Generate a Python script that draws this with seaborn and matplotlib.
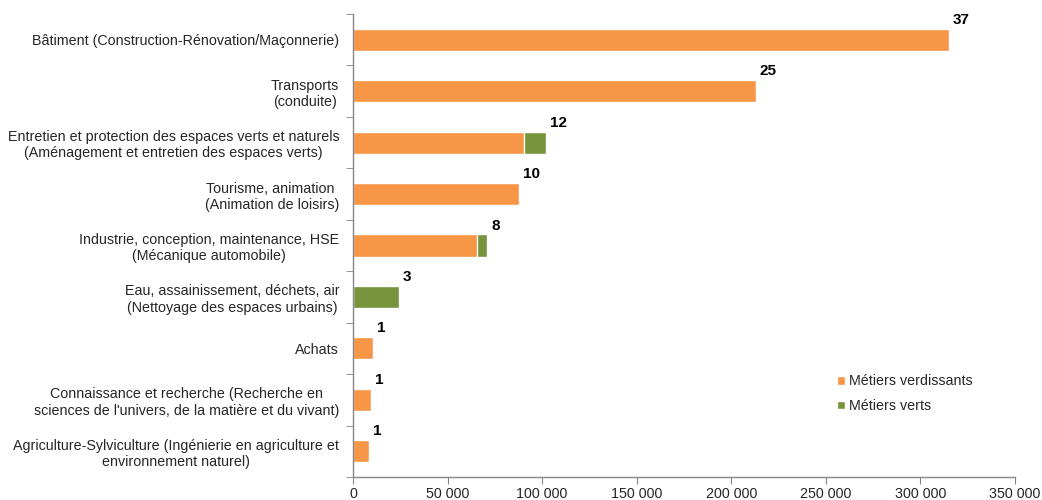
import pandas as pd
import matplotlib.pyplot as plt
import seaborn as sns
from matplotlib.ticker import FuncFormatter, FixedLocator

# --- Data ---
categories = [
    "Bâtiment (Construction-Rénovation/Maçonnerie)",
    "Transports\n(conduite)",
    "Entretien et protection des espaces verts et naturels\n(Aménagement et entretien des espaces verts)",
    "Tourisme, animation \n(Animation de loisirs)",
    "Industrie, conception, maintenance, HSE\n(Mécanique automobile)",
    "Eau, assainissement, déchets, air\n(Nettoyage des espaces urbains)",
    "Achats",
    "Connaissance et recherche (Recherche en\nsciences de l'univers, de la matière et du vivant)",
    "Agriculture-Sylviculture (Ingénierie en agriculture et\nenvironnement naturel)",
]
verdissants = [315000, 213000, 90400, 87800, 65600, 0, 10600, 9500, 8500]
verts = [0, 0, 11700, 0, 5300, 24300, 0, 0, 0]
nb_metiers = [37, 25, 12, 10, 8, 3, 1, 1, 1]

ORANGE = "#F79646"
GREEN = "#77933C"
AXIS_GRAY = "#868686"
TEXT = "#262626"

df = pd.DataFrame({
    "cat": categories,
    "verdissants": verdissants,
    "verts": verts,
    "n": nb_metiers,
})
df["total"] = df["verdissants"] + df["verts"]

# --- Style ---
sns.set_style("white")
plt.rcParams["font.family"] = ["Liberation Sans", "DejaVu Sans"]

fig = plt.figure(figsize=(10.42, 5.0), dpi=100)
ax = fig.add_axes([0.3388, 0.046, 0.6353, 0.926])

# stacked bars: total (green) underneath, orange on top
sns.barplot(data=df, x="total", y="cat", color=GREEN, width=0.43,
            saturation=1, ax=ax, label="Métiers verts")
sns.barplot(data=df, x="verdissants", y="cat", color=ORANGE, width=0.43,
            saturation=1, ax=ax, label="Métiers verdissants")

# value labels
for i, row in df.iterrows():
    ax.annotate(str(row["n"]), xy=(row["total"], i),
                xytext=(4, 13), textcoords="offset pixels",
                ha="left", va="bottom", fontsize=11, fontweight="bold",
                color="black")

# --- Axes ---
ax.set_xlim(0, 350000)
ax.set_ylim(8.5, -0.5)
ax.set_xlabel("")
ax.set_ylabel("")
ax.xaxis.set_major_locator(FixedLocator(range(0, 350001, 50000)))
ax.xaxis.set_major_formatter(FuncFormatter(lambda v, p: f"{int(v):,}".replace(",", " ")))

ax.set_yticks(range(len(categories)))
ax.set_yticklabels(categories, ha="right", multialignment="center")
ax.yaxis.set_minor_locator(FixedLocator([i + 0.5 for i in range(-1, len(categories))]))

ax.tick_params(axis="y", which="major", length=0, pad=10, labelsize=10.3, labelcolor=TEXT)
ax.tick_params(axis="y", which="minor", length=5, color=AXIS_GRAY, direction="out", left=True)
ax.tick_params(axis="x", which="major", length=5, color=AXIS_GRAY, direction="out",
               bottom=True, labelsize=10.3, labelcolor=TEXT, pad=2)

for side in ["top", "right"]:
    ax.spines[side].set_visible(False)
for side in ["left", "bottom"]:
    ax.spines[side].set_color(AXIS_GRAY)
    ax.spines[side].set_linewidth(1)

# legend: verdissants first
handles, labels = ax.get_legend_handles_labels()
order = [labels.index("Métiers verdissants"), labels.index("Métiers verts")]
ax.legend([handles[k] for k in order], [labels[k] for k in order],
          loc="lower right", bbox_to_anchor=(0.955, 0.11), frameon=False,
          handlelength=0.55, handleheight=0.55, handletextpad=0.25,
          labelspacing=0.75, fontsize=10.3, labelcolor=TEXT)

fig.savefig("out.png", dpi=100, facecolor="white")
